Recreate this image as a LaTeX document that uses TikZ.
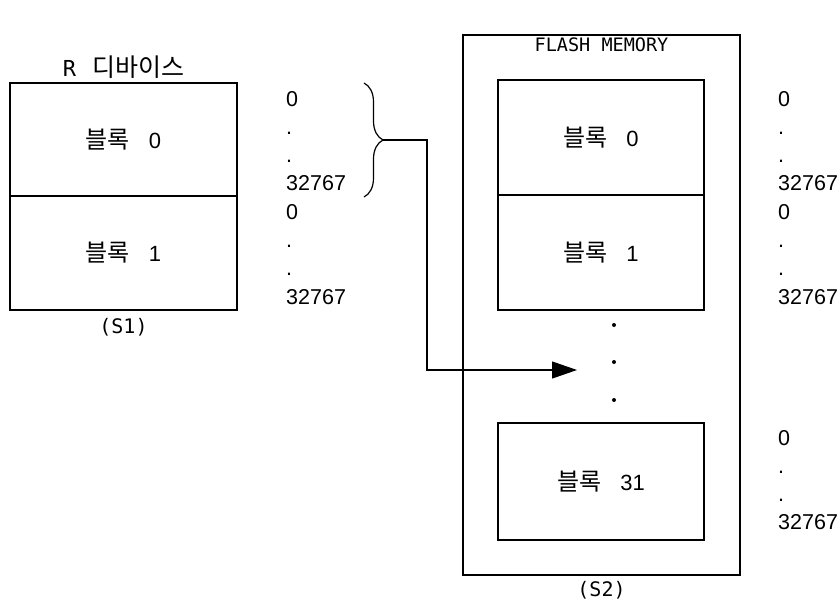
\documentclass[tikz,border=0pt]{standalone}
\usepackage{fontspec}
\newfontfamily\kfont{Noto Sans CJK KR}
\newfontfamily\numfont{Liberation Sans}
\newfontfamily\monofont{DejaVu Sans Mono}
\usetikzlibrary{positioning, arrows.meta, decorations.pathreplacing}
\newcommand{\blk}[1]{{\kfont\fontsize{24}{28}\selectfont 블록}\hspace{19pt}#1}

\begin{document}
\begin{tikzpicture}[x=1pt, y=-1pt,
            block/.style={rectangle, draw, line width=1.2pt, outer sep=0pt, inner sep=0pt, font=\numfont\fontsize{22}{24}\selectfont},
            title/.style={font=\monofont\fontsize{18.5}{21}\selectfont, inner sep=1pt},
            caption/.style={font=\monofont\fontsize{20}{22}\selectfont, inner sep=1pt},
            num/.style={font=\numfont\fontsize{21.5}{24}\selectfont, inner sep=0pt, anchor=base west},
            arrow/.style={-{Triangle[length=25pt, width=17pt]}, line width=1.2pt}]

        \useasboundingbox (0,0) rectangle (840,605);

        % R device
        \node[block, minimum width=227pt, minimum height=113pt] (rblk0) at (123.5,139.5) {\blk{0}};
        \node[block, minimum width=227pt, minimum height=114pt, below=0pt of rblk0] (rblk1) {\blk{1}};
        \node[title, above=3pt of rblk0] (rtitle) {{\fontsize{22}{24}\selectfont R}\hspace{16pt}{\kfont\fontsize{25}{26}\selectfont 디바이스}};
        \node[caption, below=7pt of rblk1] (s1) {(S1)};

        % flash memory
        \node[block, minimum width=277pt, minimum height=540pt] (flash) at (601.5,305) {};
        \node[title, below=2pt of flash.north] (ftitle) {FLASH MEMORY};
        \node[block, minimum width=206pt, minimum height=115pt] (fblk0) at (601,137.5) {\blk{0}};
        \node[block, minimum width=206pt, minimum height=115pt, below=0pt of fblk0] (fblk1) {\blk{1}};
        \node[block, minimum width=206pt, minimum height=117pt] (fblk31) at (601,481.5) {\blk{31}};
        \node[caption, below=5pt of flash] (s2) {(S2)};
        \foreach \y [count=\i] in {325,362,400}
            \fill (614,\y) circle (2pt) node (dot\i) {};

        % address ranges
        \foreach \t [count=\i from 0] in {0,.,.,32767,0,.,.,32767} {
            \node[num] (lnum\i) at (286,106+28.3*\i) {\t};
            \node[num] (rnum\i) at (778,106+28.3*\i) {\t};
        }
        \foreach \t [count=\i from 0] in {0,.,.,32767}
            \node[num] (bnum\i) at (778,445+28.3*\i) {\t};

        % copy of block 0
        \draw[line width=1.2pt, decorate, decoration={brace, amplitude=19pt}] (364,83) -- (364,197);
        \coordinate (tip) at (383,140);
        \coordinate (bend) at (427,140);
        \coordinate (target) at (577,370);
        \draw[arrow] (tip) -- (bend) |- (target);
    \end{tikzpicture}
\end{document}
